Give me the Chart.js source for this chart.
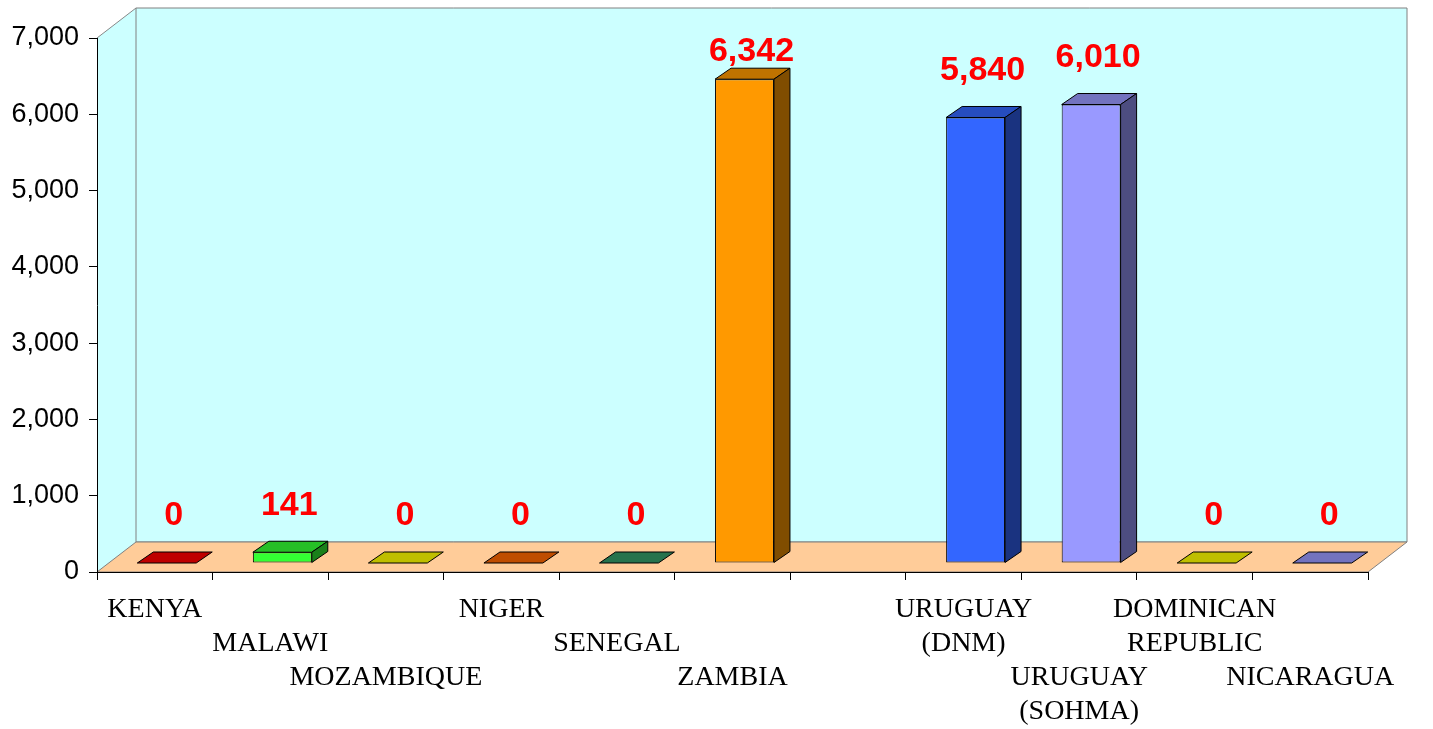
<!DOCTYPE html>
<html>
<head>
<meta charset="utf-8">
<title>Chart</title>
<script src="https://cdn.jsdelivr.net/npm/chart.js@4.4.1/dist/chart.umd.min.js"></script>
<style>
    html, body { margin: 0; padding: 0; background: #fff; }
    #wrap { width: 1433px; height: 729px; }
</style>
</head>
<body>
<div id="wrap"><canvas id="chart" width="1433" height="729"></canvas></div>
<script>
// Dati del grafico
const countries = [
    'KENYA', 'MALAWI', 'MOZAMBIQUE', 'NIGER', 'SENEGAL', 'ZAMBIA', '',
    ['URUGUAY', '(DNM)'], ['URUGUAY', '(SOHMA)'], ['DOMINICAN', 'REPUBLIC'], 'NICARAGUA'
];
const values = [0, 141, 0, 0, 0, 6342, null, 5840, 6010, 0, 0];
const barColors = [
    '#FF0000', '#33FF33', '#FFFF00', '#FF6600', '#339966', '#FF9900',
    '#FFFFFF', '#3366FF', '#9999FF', '#FFFF00', '#9999FF'
];
const yTicks = [0, 1000, 2000, 3000, 4000, 5000, 6000, 7000];

// riga di sfalsamento delle etichette sull'asse x
const labelRows = [0, 1, 2, 0, 1, 2, 0, 0, 2, 0, 2];

// profondita' 3D
const WALL_DX = 39, WALL_DY = -30;
const BAR_DX = 16, BAR_DY = -11;
const SHIFT_X = 12, SHIFT_Y = -9;

function shade(hex, k) {
    const n = parseInt(hex.slice(1), 16);
    const r = Math.round(((n >> 16) & 255) * k);
    const g = Math.round(((n >> 8) & 255) * k);
    const b = Math.round((n & 255) * k);
    return `rgb(${r},${g},${b})`;
}

function poly(ctx, pts, fill, stroke) {
    ctx.beginPath();
    ctx.moveTo(pts[0][0], pts[0][1]);
    for (let i = 1; i < pts.length; i++) ctx.lineTo(pts[i][0], pts[i][1]);
    ctx.closePath();
    if (fill) { ctx.fillStyle = fill; ctx.fill(); }
    if (stroke) { ctx.strokeStyle = stroke; ctx.lineWidth = 1; ctx.stroke(); }
}

// Pareti e pavimento
const wallsPlugin = {
    id: 'walls',
    beforeDraw(chart) {
        const { ctx, chartArea: a } = chart;
        ctx.save();
        ctx.fillStyle = '#fff';
        ctx.fillRect(0, 0, chart.width, chart.height);
        // parete sinistra
        poly(ctx, [[a.left, a.top], [a.left + WALL_DX, a.top + WALL_DY],
                   [a.left + WALL_DX, a.bottom + WALL_DY], [a.left, a.bottom]], '#CCFFFF', null);
        ctx.beginPath();
        ctx.moveTo(a.left, a.top);
        ctx.lineTo(a.left + WALL_DX, a.top + WALL_DY);
        ctx.strokeStyle = '#888';
        ctx.stroke();
        // parete di fondo
        poly(ctx, [[a.left + WALL_DX, a.top + WALL_DY], [a.right + WALL_DX, a.top + WALL_DY],
                   [a.right + WALL_DX, a.bottom + WALL_DY], [a.left + WALL_DX, a.bottom + WALL_DY]],
             '#CCFFFF', '#808080');
        // pavimento
        poly(ctx, [[a.left, a.bottom], [a.right, a.bottom],
                   [a.right + WALL_DX, a.bottom + WALL_DY], [a.left + WALL_DX, a.bottom + WALL_DY]],
             '#FFCC99', '#808080');
        ctx.restore();
    }
};

// Barre 3D (facce superiore e laterale) + etichette valori
const bars3dPlugin = {
    id: 'bars3d',
    beforeDatasetsDraw(chart) {
        chart.ctx.save();
        chart.ctx.translate(SHIFT_X, SHIFT_Y);
    },
    afterDatasetsDraw(chart) {
        const ctx = chart.ctx;
        const meta = chart.getDatasetMeta(0);
        meta.data.forEach((bar, i) => {
            if (values[i] === null) return;
            const { x, y, base, width } = bar.getProps(['x', 'y', 'base', 'width'], true);
            const l = x - width / 2, r = x + width / 2;
            const c = barColors[i];
            poly(ctx, [[l, y], [r, y], [r + BAR_DX, y + BAR_DY], [l + BAR_DX, y + BAR_DY]], shade(c, 0.75), '#000');
            if (base - y > 0.5) {
                poly(ctx, [[r, y], [r + BAR_DX, y + BAR_DY], [r + BAR_DX, base + BAR_DY], [r, base]], shade(c, 0.5), '#000');
            }
        });
        ctx.restore();

        const top = chart.chartArea.top;
        ctx.save();
        ctx.font = 'bold 34px "Liberation Sans", Arial, sans-serif';
        ctx.fillStyle = '#FF0000';
        ctx.textAlign = 'center';
        ctx.textBaseline = 'middle';
        meta.data.forEach((bar, i) => {
            if (values[i] === null) return;
            const ly = Math.max(bar.y + SHIFT_Y - 47, top + 14);
            ctx.fillText(values[i].toLocaleString('en-US'), bar.x + SHIFT_X + 7, ly);
        });
        ctx.restore();
    }
};

const ctx = document.getElementById('chart').getContext('2d');
new Chart(ctx, {
    type: 'bar',
    data: {
        labels: countries,
        datasets: [{
            data: values,
            backgroundColor: barColors,
            borderColor: '#000',
            borderWidth: 1,
            borderSkipped: false,
            categoryPercentage: 1,
            barPercentage: 0.51,
            clip: false
        }]
    },
    options: {
        responsive: false,
        devicePixelRatio: 1,
        animation: false,
        layout: { padding: { top: 38, right: 65, left: 0, bottom: 0 } },
        plugins: {
            legend: { display: false },
            tooltip: { enabled: false }
        },
        scales: {
            x: {
                afterFit: (scale) => { scale.height = 157; },
                grid: { drawOnChartArea: false, drawTicks: true, tickLength: 8, color: '#000', offset: true },
                border: { color: '#000', width: 1 },
                ticks: {
                    autoSkip: false,
                    maxRotation: 0,
                    padding: 13,
                    color: '#000',
                    font: { family: '"Liberation Serif", "Times New Roman", serif', size: 28, lineHeight: 1.214 },
                    callback: function (value, index) {
                        const name = countries[index];
                        const lines = Array.isArray(name) ? name : [name];
                        return Array(labelRows[index]).fill('').concat(lines);
                    }
                }
            },
            y: {
                min: 0,
                max: 7000,
                afterFit: (scale) => { scale.width = 97; },
                afterBuildTicks: (scale) => { scale.ticks = yTicks.map(v => ({ value: v })); },
                grid: { drawOnChartArea: false, drawTicks: true, tickLength: 8, color: '#000' },
                border: { color: '#000', width: 1 },
                ticks: {
                    padding: 10,
                    color: '#000',
                    font: { family: '"Liberation Sans", Arial, sans-serif', size: 27 },
                    callback: (v) => v.toLocaleString('en-US')
                }
            }
        }
    },
    plugins: [wallsPlugin, bars3dPlugin]
});
</script>
</body>
</html>
